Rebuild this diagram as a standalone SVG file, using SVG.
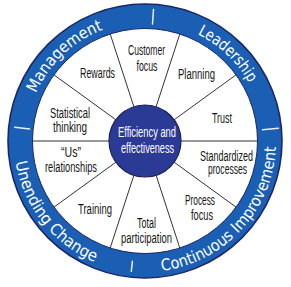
<svg xmlns="http://www.w3.org/2000/svg" width="291" height="287" viewBox="0 0 291 287">
<style>
.lbl{font-family:"Liberation Sans",Arial,sans-serif;font-size:15.5px;fill:#151515;text-anchor:middle}
.ctr{font-family:"Liberation Sans",Arial,sans-serif;font-size:15.5px;fill:#ffffff;text-anchor:middle}
.ring{font-family:"DejaVu Sans",sans-serif;font-size:16px;fill:#ffffff;text-anchor:middle}
.rs{text-anchor:start}
.spoke{stroke:#333333;stroke-width:1}
.sep{stroke:#ffffff;stroke-width:1.5;stroke-linecap:round;opacity:0.9}
</style>
<defs>
<path id="topArc" d="M 26 141 A 119 119 0 0 1 264 141"/>
<path id="botArc" d="M 14 141 A 131 131 0 0 0 276 141"/>
</defs>
<g id="outer-ring">
<circle cx="145" cy="141" r="137" fill="#1a5fb4" stroke="#1b2766" stroke-width="1.6"/>
<circle cx="145" cy="141" r="112.5" fill="#ffffff" stroke="#1b2766" stroke-width="1"/>
<line class="sep" x1="152.5" y1="24" x2="153.5" y2="9.5"/>
<line class="sep" x1="262.5" y1="129.7" x2="278.4" y2="128.2"/>
<line class="sep" x1="132.4" y1="261.3" x2="131.3" y2="271.3"/>
<line class="sep" x1="29.6" y1="128.9" x2="14.7" y2="127.3"/>
</g>
<g id="management"><text class="ring"><textPath href="#topArc" startOffset="25.8%" textLength="95" lengthAdjust="spacingAndGlyphs">Management</textPath></text></g>
<g id="leadership"><text class="ring"><textPath href="#topArc" startOffset="74.2%" textLength="72" lengthAdjust="spacingAndGlyphs">Leadership</textPath></text></g>
<g id="continuous-improvement">
<text class="ring rs"><textPath href="#botArc" startOffset="222.5" textLength="81.3" lengthAdjust="spacingAndGlyphs">Continuous</textPath></text>
<text class="ring rs"><textPath href="#botArc" startOffset="308.4" textLength="97.1" lengthAdjust="spacingAndGlyphs">Improvement</textPath></text>
</g>
<g id="unending-change">
<text class="ring rs"><textPath href="#botArc" startOffset="21.1" textLength="71.3" lengthAdjust="spacingAndGlyphs">Unending</textPath></text>
<text class="ring rs"><textPath href="#botArc" startOffset="97.1" textLength="56.9" lengthAdjust="spacingAndGlyphs">Change</textPath></text>
</g>
<g id="connectors">
<line class="spoke" x1="133.9" y1="106.8" x2="110.2" y2="34"/>
<line class="spoke" x1="156.1" y1="106.8" x2="179.8" y2="34"/>
<line class="spoke" x1="174.1" y1="119.8" x2="236" y2="74.9"/>
<line class="spoke" x1="181" y1="141" x2="257.5" y2="141"/>
<line class="spoke" x1="174.1" y1="162.2" x2="236" y2="207.1"/>
<line class="spoke" x1="156.1" y1="175.2" x2="179.8" y2="248"/>
<line class="spoke" x1="133.9" y1="175.2" x2="110.2" y2="248"/>
<line class="spoke" x1="115.9" y1="162.2" x2="54" y2="207.1"/>
<line class="spoke" x1="109" y1="141" x2="32.5" y2="141"/>
<line class="spoke" x1="115.9" y1="119.8" x2="54" y2="74.9"/>
</g>
<g id="customer-focus"><text class="lbl" x="146.5" y="55" textLength="37" lengthAdjust="spacingAndGlyphs">Customer</text><text class="lbl" x="147" y="71" textLength="21" lengthAdjust="spacingAndGlyphs">focus</text></g>
<g id="planning"><text class="lbl" x="196.5" y="79" textLength="37" lengthAdjust="spacingAndGlyphs">Planning</text></g>
<g id="trust"><text class="lbl" x="222" y="123" textLength="20" lengthAdjust="spacingAndGlyphs">Trust</text></g>
<g id="standardized-processes"><text class="lbl" x="226.5" y="161" textLength="53" lengthAdjust="spacingAndGlyphs">Standardized</text><text class="lbl" x="227.5" y="174" textLength="39" lengthAdjust="spacingAndGlyphs">processes</text></g>
<g id="process-focus"><text class="lbl" x="200" y="205" textLength="30" lengthAdjust="spacingAndGlyphs">Process</text><text class="lbl" x="202" y="220" textLength="22" lengthAdjust="spacingAndGlyphs">focus</text></g>
<g id="total-participation"><text class="lbl" x="146.5" y="228" textLength="19" lengthAdjust="spacingAndGlyphs">Total</text><text class="lbl" x="146.5" y="243" textLength="51" lengthAdjust="spacingAndGlyphs">participation</text></g>
<g id="training"><text class="lbl" x="95" y="214" textLength="34" lengthAdjust="spacingAndGlyphs">Training</text></g>
<g id="us-relationships"><text class="lbl" x="71" y="157" textLength="20" lengthAdjust="spacingAndGlyphs">“Us”</text><text class="lbl" x="71" y="172" textLength="52" lengthAdjust="spacingAndGlyphs">relationships</text></g>
<g id="statistical-thinking"><text class="lbl" x="70" y="118" textLength="40" lengthAdjust="spacingAndGlyphs">Statistical</text><text class="lbl" x="70" y="132" textLength="34" lengthAdjust="spacingAndGlyphs">thinking</text></g>
<g id="rewards"><text class="lbl" x="97.5" y="78" textLength="35" lengthAdjust="spacingAndGlyphs">Rewards</text></g>
<g id="center">
<circle cx="145" cy="141" r="36" fill="#2b3a94" stroke="#1b2157" stroke-width="1.2"/>
<text class="ctr" x="147" y="137" textLength="58" lengthAdjust="spacingAndGlyphs">Efficiency and</text>
<text class="ctr" x="147.5" y="153" textLength="53" lengthAdjust="spacingAndGlyphs">effectiveness</text>
</g>
</svg>
